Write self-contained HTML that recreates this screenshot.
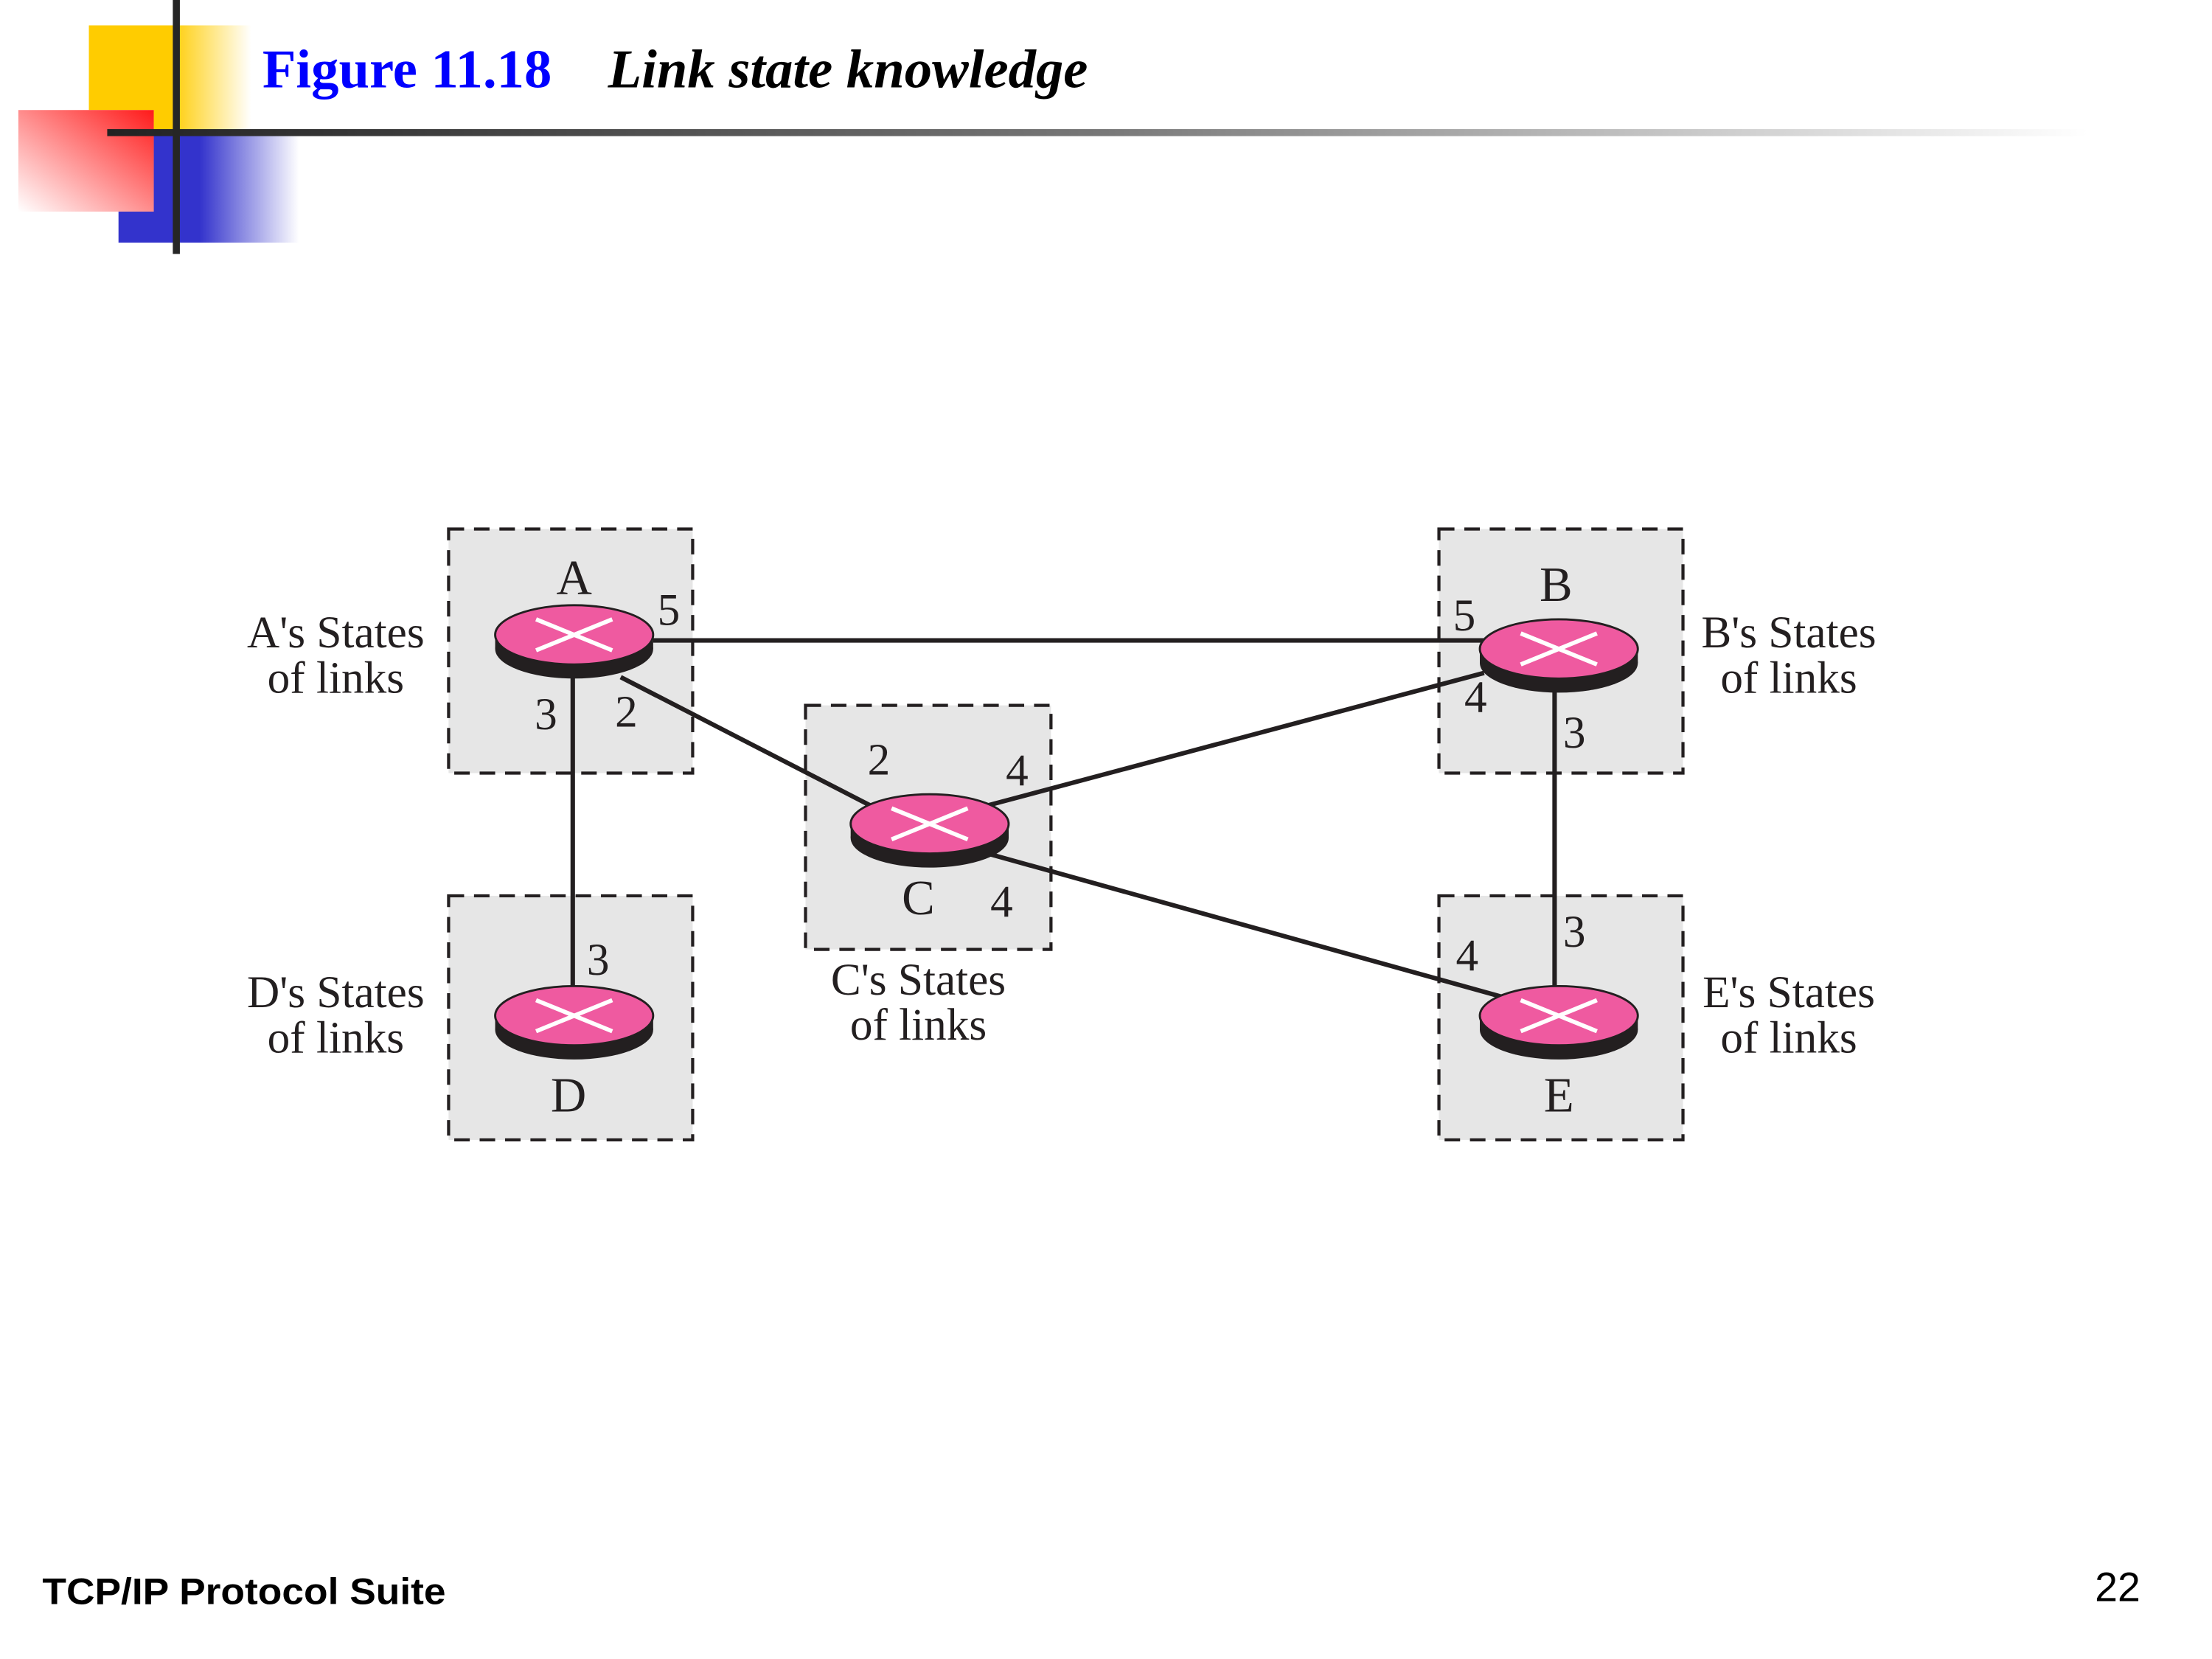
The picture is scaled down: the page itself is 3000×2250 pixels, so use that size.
<!DOCTYPE html>
<html><head><meta charset="utf-8"><style>
html,body{margin:0;padding:0;background:#fff;}
svg{display:block;}
</style></head><body>
<svg width="3000" height="2250" viewBox="0 0 1568 1176" preserveAspectRatio="none" xmlns="http://www.w3.org/2000/svg">
<defs>
<linearGradient id="yg" x1="0" x2="1" y1="0" y2="0"><stop offset="0.5" stop-color="#ffcc00"/><stop offset="1" stop-color="#ffcc00" stop-opacity="0"/></linearGradient>
<linearGradient id="bg" x1="0" x2="1" y1="0" y2="0"><stop offset="0.45" stop-color="#3333cc"/><stop offset="1" stop-color="#3333cc" stop-opacity="0"/></linearGradient>
<linearGradient id="rg" x1="1" y1="0" x2="0" y2="1"><stop offset="0" stop-color="#ff1a1a"/><stop offset="1" stop-color="#ff1a1a" stop-opacity="0"/></linearGradient>
<linearGradient id="lg" x1="0" x2="1" y1="0" y2="0"><stop offset="0" stop-color="#222"/><stop offset="0.5" stop-color="#777"/><stop offset="1" stop-color="#fff"/></linearGradient>
<g id="r">
<ellipse cx="0" cy="10" rx="56" ry="21" fill="#231f20"/>
<rect x="-56" y="0" width="112" height="10" fill="#231f20"/>
<ellipse cx="0" cy="0" rx="56" ry="21" fill="#ef5aa0" stroke="#231f20" stroke-width="1.5"/>
<path d="M-27,-11 L27,11 M-27,11 L27,-11" stroke="#fff" stroke-width="3"/>
</g>
</defs>
<!-- logo -->
<rect x="63" y="18" width="115" height="77" fill="url(#yg)"/>
<rect x="84" y="95" width="128" height="77" fill="url(#bg)"/>
<rect x="13" y="78" width="96" height="72" fill="#fff"/>
<rect x="13" y="78" width="96" height="72" fill="url(#rg)"/>
<rect x="76" y="91.5" width="1404" height="5" fill="url(#lg)"/>
<rect x="122.5" y="0" width="5" height="180" fill="#262626"/>
<text x="186" y="62" font-family="Liberation Serif, serif" font-weight="bold" font-size="39" fill="#0000ff">Figure 11.18</text>
<text x="431" y="62" font-family="Liberation Serif, serif" font-weight="bold" font-style="italic" font-size="39" fill="#000">Link state knowledge</text>
<!-- boxes -->
<g fill="#e6e6e6" stroke="#231f20" stroke-width="2.2" stroke-dasharray="11,7">
<rect x="318" y="375" width="173" height="173"/>
<rect x="1020" y="375" width="173" height="173"/>
<rect x="571" y="500" width="174" height="173"/>
<rect x="318" y="635" width="173" height="173"/>
<rect x="1020" y="635" width="173" height="173"/>
</g>
<!-- links -->
<g stroke="#231f20" stroke-width="3.2" fill="none">
<line x1="463" y1="454" x2="1052" y2="454"/>
<line x1="406" y1="470" x2="406" y2="702"/>
<line x1="440" y1="480" x2="617" y2="571"/>
<line x1="700" y1="571" x2="1052" y2="477"/>
<line x1="700" y1="605" x2="1066" y2="707"/>
<line x1="1102" y1="488" x2="1102" y2="702"/>
</g>
<use href="#r" x="407" y="450"/>
<use href="#r" x="1105" y="460"/>
<use href="#r" x="659" y="584"/>
<use href="#r" x="407" y="720"/>
<use href="#r" x="1105" y="720"/>
<g font-family="Liberation Serif, serif" fill="#231f20" font-size="32" text-anchor="middle">
<text x="407" y="421" font-size="35">A</text>
<text x="1103" y="426" font-size="35">B</text>
<text x="651" y="648" font-size="35">C</text>
<text x="403" y="788" font-size="35">D</text>
<text x="1105" y="788" font-size="35">E</text>
<text x="474" y="443">5</text>
<text x="387" y="517">3</text>
<text x="444" y="515">2</text>
<text x="1038" y="447">5</text>
<text x="1046" y="505">4</text>
<text x="1116" y="530">3</text>
<text x="623" y="549">2</text>
<text x="721" y="557">4</text>
<text x="710" y="650">4</text>
<text x="424" y="691">3</text>
<text x="1040" y="688">4</text>
<text x="1116" y="671">3</text>
<text x="238" y="459">A's States</text>
<text x="238" y="491">of links</text>
<text x="238" y="714">D's States</text>
<text x="238" y="746">of links</text>
<text x="1268" y="459">B's States</text>
<text x="1268" y="491">of links</text>
<text x="1268" y="714">E's States</text>
<text x="1268" y="746">of links</text>
<text x="651" y="705">C's States</text>
<text x="651" y="737">of links</text>
</g>
<text x="30" y="1137" font-family="Liberation Sans, sans-serif" font-weight="bold" font-size="26" fill="#000" textLength="286" lengthAdjust="spacingAndGlyphs">TCP/IP Protocol Suite</text>
<text x="1485" y="1135" font-family="Liberation Sans, sans-serif" font-size="29" fill="#000">22</text>
</svg>
</body></html>
